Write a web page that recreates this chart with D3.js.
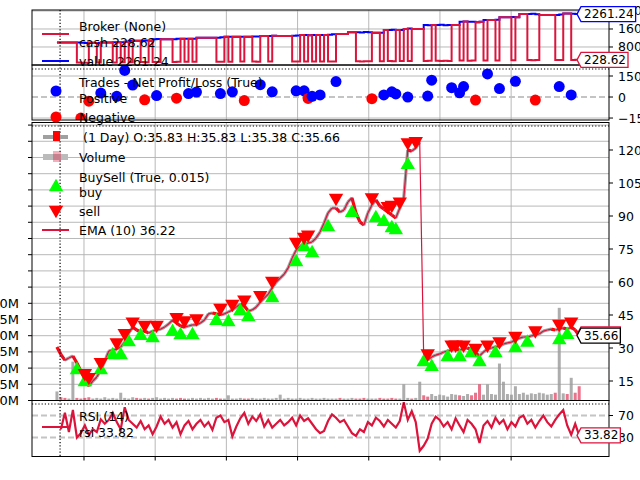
<!DOCTYPE html>
<html lang="en">
<head>
<meta charset="UTF-8">
<title>Backtest plot</title>
<script src="https://d3js.org/d3.v7.min.js"></script>
<style>
  body { margin: 0; background: #fff; }
  svg text { font-family: "DejaVu Sans", sans-serif; fill: #000; }
</style>
</head>
<body>
<div id="chart"></div>
<script>
// one sample every 14 trading days
const firstDay = 155, dayStep = 14, minPeriodDay = 166;

const closes = [30.5, 27.0, 24.5, 25.5, 26.4, 23.2, 19.5, 15.9, 12.7, 15.0,
  16.8, 20.0, 24.0, 28.6, 29.1, 29.5, 30.5, 32.7, 36.8, 39.5,
  38.2, 37.3, 37.7, 36.8, 37.7, 38.2, 38.6, 39.5, 40.9, 42.7,
  41.4, 40.0, 39.5, 40.0, 40.5, 40.5, 41.4, 42.7, 45.5, 45.9,
  45.5, 45.0, 45.5, 46.4, 47.3, 48.6, 50.0, 49.1, 46.8, 47.3,
  48.6, 50.9, 52.7, 54.5, 57.3, 60.0, 61.8, 63.6, 66.4, 70.9,
  74.5, 76.4, 77.3, 77.7, 78.2, 80.0, 82.7, 86.8, 91.4, 93.6,
  93.6, 91.8, 92.7, 96.4, 98.2, 91.4, 87.3, 85.9, 91.4, 95.0,
  97.3, 94.5, 93.2, 91.8, 90.5, 89.1, 93.6, 98.2, 120.0, 119.5,
  120.9, 123.6, 25.5, 24.5, 25.9, 26.8, 27.3, 28.2, 28.6, 29.1,
  29.5, 29.1, 29.5, 30.0, 29.1, 27.7, 26.4, 28.2, 29.5, 30.0,
  30.5, 30.9, 31.8, 32.3, 32.7, 33.6, 34.5, 35.0, 35.0, 35.5,
  35.9, 36.4, 37.7, 38.2, 38.6, 38.2, 38.6, 39.1, 38.6, 39.5,
  38.2, 35.66];

const volume = [14, 5, 4, 3, 60, 4, 3, 4, 5, 3,
  4, 3, 5, 3, 4, 3, 12, 4, 3, 5,
  4, 3, 4, 3, 4, 5, 3, 4, 3, 4,
  3, 4, 3, 3, 4, 3, 4, 3, 4, 3,
  4, 3, 3, 8, 3, 3, 4, 3, 3, 4,
  3, 3, 4, 3, 3, 4, 9, 3, 4, 3,
  3, 4, 3, 3, 4, 3, 3, 4, 3, 3,
  3, 4, 3, 3, 4, 3, 3, 4, 3, 3,
  3, 4, 3, 3, 4, 3, 3, 25, 4, 3,
  4, 29, 8, 6, 10, 7, 9, 8, 6, 10,
  9, 8, 7, 10, 8, 12, 25, 9, 25, 10,
  9, 57, 29, 10, 9, 22, 10, 12, 9, 11,
  10, 12, 11, 9, 10, 12, 143, 11, 10, 35,
  12, 22];

const rsi = [null, 45, 75, 40, 80, 30, 38, 52, 35, 45,
  40, 63, 55, 62, 75, 58, 45, 85, 62, 55,
  48, 60, 45, 52, 36, 50, 68, 55, 62, 48,
  58, 36, 52, 60, 45, 55, 62, 50, 58, 44,
  66, 70, 58, 62, 32, 50, 65, 75, 55, 68,
  60, 72, 50, 62, 48, 55, 62, 52, 58, 66,
  52, 70, 60, 65, 55, 45, 38, 42, 60, 72,
  66, 58, 62, 50, 38, 33, 45, 40, 58, 52,
  66, 60, 50, 62, 55, 48, 60, 94, 62, 78,
  58, 6, 15, 28, 55, 68, 62, 50, 58, 45,
  65, 52, 40, 62, 55, 45, 20, 52, 60, 48,
  66, 55, 62, 45, 58, 50, 66, 70, 55, 62,
  48, 60, 70, 58, 50, 62, 72, 80, 52, 35,
  55, 33.82];

const value = [1000, 1000, 1000, 1000, 1000, 1000, 990, 975, 985, 975,
  975, 1000, 1005, 1005, 1010, 1010, 1010, 1030, 1080, 1080,
  1080, 1075, 1085, 1080, 1140, 1150, 1140, 1140, 1140, 1140,
  1170, 1165, 1170, 1170, 1170, 1210, 1210, 1210, 1210, 1210,
  1210, 1230, 1260, 1260, 1250, 1260, 1260, 1250, 1260, 1270,
  1265, 1290, 1290, 1290, 1300, 1290, 1290, 1290, 1290, 1300,
  1310, 1330, 1330, 1320, 1330, 1330, 1335, 1330, 1340, 1370,
  1380, 1380, 1380, 1450, 1450, 1460, 1440, 1470, 1450, 1430,
  1430, 1430, 1560, 1560, 1570, 1560, 1560, 1600, 1620, 1600,
  1600, 1600, 1780, 1770, 1780, 1780, 1790, 1770, 1780, 1780,
  1780, 1920, 1930, 1920, 1920, 1900, 1920, 2000, 2000, 2000,
  2010, 2120, 2120, 2120, 2130, 2120, 2265, 2265, 2270, 2280,
  2260, 2220, 2220, 2220, 2220, 2220, 2240, 2290, 2290, 2280,
  2270, 2261.24];

const cash = [1000, 1000, 1000, 1000, 1000, 110, 105, 100, 985, 975,
  110, 1000, 1005, 1005, 115, 1010, 120, 1030, 125, 1080,
  1080, 130, 125, 1080, 130, 130, 1140, 1140, 1140, 135,
  140, 1165, 140, 1170, 140, 1210, 1210, 1210, 1210, 1210,
  145, 140, 1260, 145, 1250, 1260, 150, 1250, 1260, 150,
  145, 1290, 1290, 150, 1300, 1290, 1290, 1290, 1290, 155,
  150, 1330, 155, 1320, 155, 1330, 155, 1330, 160, 155,
  1380, 1380, 1380, 1450, 1450, 165, 160, 170, 165, 1430,
  1430, 170, 1560, 175, 170, 1560, 175, 1600, 180, 1600,
  1600, 1600, 180, 185, 1780, 185, 180, 185, 180, 1780,
  1780, 195, 1930, 190, 195, 1900, 1920, 200, 2000, 2000,
  205, 2120, 2120, 2120, 210, 2120, 2265, 2265, 220, 215,
  220, 2220, 2220, 2220, 2220, 220, 225, 2290, 2290, 225,
  230, 228.62];

const buyIdx = [5, 7, 11, 14, 16, 18, 21, 24, 29, 31, 34, 40, 43, 46, 48, 54, 60, 62, 64, 68,
  74, 80, 82, 84, 85, 88, 92, 94, 98, 101, 104, 106, 110, 115, 118, 126, 128];
const buyPrice = [20.0, 14.5, 20.0, 26.8, 26.8, 32.7, 35.5, 34.5, 37.3, 35.9, 35.9, 42.3, 41.8, 46.8, 44.1, 52.7, 69.1, 75.9, 73.2, 85.0,
  91.4, 89.1, 87.3, 84.5, 83.6, 113.2, 23.6, 21.4, 25.9, 25.9, 27.7, 23.6, 27.7, 30.0, 32.5, 33.6, 36.0];

const sellIdx = [7, 8, 11, 15, 17, 19, 22, 25, 30, 32, 35, 41, 44, 47, 51, 54, 60, 62, 63, 70,
  79, 83, 84, 86, 88, 90, 93, 99, 100, 102, 105, 108, 111, 115, 120, 126, 129];
const sellPrice = [18.6, 16.8, 23.6, 32.5, 36.8, 42.0, 40.5, 40.5, 44.0, 42.5, 43.5, 48.2, 50.0, 52.0, 54.0, 60.5, 78.2, 80.5, 81.5, 98.2,
  98.5, 94.5, 95.0, 96.5, 123.5, 124.0, 27.5, 31.5, 31.5, 31.5, 30.0, 31.5, 33.0, 35.5, 38.0, 41.0, 42.0];

const tradeIdx = [6, 8, 11, 15, 17, 19, 22, 25, 30, 33, 35, 41, 44, 47, 51, 54, 60, 62, 63, 64,
  66, 70, 79, 82, 84, 85, 88, 93, 94, 99, 101, 102, 105, 108, 111, 115, 120, 126, 129];
const tradePnl = [-150, -30, 28, 5, 190, 85, -20, 10, -8, 25, 35, 25, 37, -25, 88, 37, 44, 44, -10, 5,
  15, 110, -12, 15, 37, 22, 0, 7, 120, 67, 30, 75, -22, 165, 60, 112, -22, 75, 15];

const xTicks = [250, 500, 750, 1000, 1250, 1500, 1750];
const brokerTicks = [800, 1600, 2400];
const tradeTicks = [-150, 0, 150];
const priceTicks = [15, 30, 45, 60, 75, 90, 105, 120];
const volLabelTicks = [0, 25, 50, 75, 100, 125, 150];
const rsiTicks = [30, 70];

const lastOhlc = "(1 Day) O:35.83 H:35.83 L:35.38 C:35.66";
const lastEma = 36.22;

// ---------- layout ----------
const W = 640, H = 480, L = 32, R = 609;
const P = {
  broker: [10, 65],
  trades: [65, 120],
  main: [122.5, 400.5],
  rsi: [400.5, 456.5]
};
const CRIMSON = "#dc143c", GRID = "#b0b0b0";

const svg = d3.select("#chart").append("svg").attr("width", W).attr("height", H);
svg.append("rect").attr("width", W).attr("height", H).attr("fill", "#fff");

const x = d3.scaleLinear().domain([67.4, 2093.7]).range([L, R]);
const day = i => firstDay + i * dayStep;

const yBroker = d3.scaleLinear().domain([0, 2444]).range([P.broker[1], P.broker[0]]);
const yTrade = d3.scaleLinear().domain([-164, 228.6]).range([P.trades[1], P.trades[0]]);
const yPrice = d3.scaleLinear().domain([6.14, 132.5]).range([P.main[1], P.main[0]]);
const yVol = d3.scaleLinear().domain([0, 429]).range([P.main[1], P.main[0]]);
const yRsi = d3.scaleLinear().domain([-4.5, 97.3]).range([P.rsi[1], P.rsi[0]]);

// clip paths
const defs = svg.append("defs");
Object.entries(P).forEach(([k, [t, b]]) => {
  defs.append("clipPath").attr("id", "clip-" + k)
    .append("rect").attr("x", L).attr("y", t).attr("width", R - L).attr("height", b - t);
});

// ---------- grids ----------
const grid = svg.append("g").attr("stroke", GRID).attr("stroke-width", 0.9);
Object.values(P).forEach(([t, b]) => {
  xTicks.forEach(d => grid.append("line").attr("x1", x(d)).attr("x2", x(d)).attr("y1", t).attr("y2", b));
});
brokerTicks.forEach(d => grid.append("line").attr("x1", L).attr("x2", R).attr("y1", yBroker(d)).attr("y2", yBroker(d)));
[-150, 150].forEach(d => grid.append("line").attr("x1", L).attr("x2", R).attr("y1", yTrade(d)).attr("y2", yTrade(d)));
d3.range(0, 430, 25).forEach(d => grid.append("line").attr("x1", L).attr("x2", R).attr("y1", yVol(d)).attr("y2", yVol(d)));

const dashed = svg.append("g").attr("stroke", "#c4c4c4").attr("stroke-width", 2).attr("stroke-dasharray", "6,3");
dashed.append("line").attr("x1", L).attr("x2", R).attr("y1", yTrade(0)).attr("y2", yTrade(0));
rsiTicks.forEach(d => dashed.append("line").attr("x1", L).attr("x2", R).attr("y1", yRsi(d)).attr("y2", yRsi(d)));

// ---------- broker ----------
const gB = svg.append("g").attr("clip-path", "url(#clip-broker)");
const stepLine = (yS) => d3.line().x((d, i) => x(day(i))).y(d => yS(d)).curve(d3.curveStepAfter);
gB.append("path").datum(value).attr("d", stepLine(yBroker)).attr("fill", "none")
  .attr("stroke", "#0000ff").attr("stroke-width", 2);
gB.append("path").datum(cash).attr("d", stepLine(yBroker)).attr("fill", "none")
  .attr("stroke", CRIMSON).attr("stroke-width", 2);

// ---------- trades ----------
const gT = svg.append("g").attr("clip-path", "url(#clip-trades)");
gT.selectAll("circle").data(tradeIdx).join("circle")
  .attr("cx", d => x(day(d)))
  .attr("cy", (d, k) => yTrade(tradePnl[k]))
  .attr("r", 5.5)
  .attr("fill", (d, k) => tradePnl[k] >= 0 ? "#0000ff" : "#ff0000");

// ---------- main: volume, price, ema, buy/sell ----------
const gM = svg.append("g").attr("clip-path", "url(#clip-main)");
gM.selectAll("rect.vol").data(volume).join("rect").attr("class", "vol")
  .attr("x", (d, i) => x(day(i)) - 1.5)
  .attr("width", 3)
  .attr("y", d => yVol(d))
  .attr("height", d => yVol(0) - yVol(d))
  .attr("fill", (d, i) => (i > 0 && closes[i] < closes[i - 1]) ? CRIMSON : "#999")
  .attr("opacity", (d, i) => (i > 0 && closes[i] < closes[i - 1]) ? 0.6 : 0.8);

closes.forEach((c, i) => {
  if (i === 0) return;
  const p = closes[i - 1];
  if (Math.abs(c - p) / p > 0.5) return; // split gap, no bar drawn
  gM.append("line")
    .attr("x1", x(day(i - 1))).attr("y1", yPrice(p))
    .attr("x2", x(day(i))).attr("y2", yPrice(c))
    .attr("stroke", c >= p ? "#a0a0a0" : "#ff0000")
    .attr("stroke-width", 3.2);
});

gM.append("path").datum(closes)
  .attr("d", d3.line().x((d, i) => x(day(i))).y(d => yPrice(d)))
  .attr("fill", "none").attr("stroke", CRIMSON).attr("stroke-width", 1.2);

const tri = d3.symbol().type(d3.symbolTriangle).size(90);
gM.selectAll("path.buy").data(buyIdx).join("path").attr("class", "buy")
  .attr("d", tri)
  .attr("transform", (d, k) => `translate(${x(day(d))},${yPrice(buyPrice[k])})`)
  .attr("fill", "#00ff00");
gM.selectAll("path.sell").data(sellIdx).join("path").attr("class", "sell")
  .attr("d", tri)
  .attr("transform", (d, k) => `translate(${x(day(d))},${yPrice(sellPrice[k])}) rotate(180)`)
  .attr("fill", "#ff0000");

// ---------- rsi ----------
const gR = svg.append("g").attr("clip-path", "url(#clip-rsi)");
gR.append("path").datum(rsi)
  .attr("d", d3.line().defined(d => d !== null).x((d, i) => x(day(i))).y(d => yRsi(d)))
  .attr("fill", "none").attr("stroke", CRIMSON).attr("stroke-width", 2.2);

// ---------- frames, dotted markers ----------
Object.values(P).forEach(([t, b]) => {
  svg.append("rect").attr("x", L).attr("y", t).attr("width", R - L).attr("height", b - t)
    .attr("fill", "none").attr("stroke", "#000").attr("stroke-width", 1);
});
const dots = svg.append("g").attr("stroke", "#000").attr("stroke-width", 1.2).attr("stroke-dasharray", "1.2,2");
[P.trades[0] + 4, P.main[0] + 3.5, P.rsi[0] + 3.5].forEach(y =>
  dots.append("line").attr("x1", L).attr("x2", R).attr("y1", y).attr("y2", y));
dots.append("line").attr("x1", x(minPeriodDay)).attr("x2", x(minPeriodDay)).attr("y1", P.broker[0]).attr("y2", P.rsi[1]);

// ---------- ticks ----------
const FS = 12.5;
function rightTicks(ticks, yS, fmt) {
  ticks.forEach(d => {
    svg.append("line").attr("x1", R).attr("x2", R + 4).attr("y1", yS(d)).attr("y2", yS(d)).attr("stroke", "#000");
    svg.append("text").attr("x", R + 9).attr("y", yS(d)).attr("dominant-baseline", "central")
      .attr("font-size", FS).text(fmt ? fmt(d) : d);
  });
}
rightTicks(brokerTicks, yBroker);
rightTicks(tradeTicks, yTrade, d => d < 0 ? "\u2212" + Math.abs(d) : d);
rightTicks(priceTicks, yPrice);
rightTicks(rsiTicks, yRsi);

d3.range(0, 430, 25).forEach(d => {
  svg.append("line").attr("x1", L - 4).attr("x2", L).attr("y1", yVol(d)).attr("y2", yVol(d)).attr("stroke", "#000");
});
volLabelTicks.forEach(d => {
  svg.append("text").attr("x", 19).attr("y", yVol(d)).attr("dominant-baseline", "central")
    .attr("text-anchor", "end").attr("font-size", 13).text(d + "M");
});
xTicks.forEach(d => {
  svg.append("line").attr("x1", x(d)).attr("x2", x(d)).attr("y1", P.rsi[1]).attr("y2", P.rsi[1] + 4).attr("stroke", "#000");
});

// ---------- legends ----------
function label(xx, y, t) {
  svg.append("text").attr("x", xx).attr("y", y).attr("dominant-baseline", "central").attr("font-size", FS).text(t);
}
function legLine(y, color) {
  svg.append("line").attr("x1", 42).attr("x2", 69).attr("y1", y).attr("y2", y).attr("stroke", color).attr("stroke-width", 2);
}
legLine(34, CRIMSON);
label(79, 26, "Broker (None)");
label(79, 42, "cash " + cash[cash.length - 1].toFixed(2));
legLine(61, "#0000ff");
label(79, 61, "value " + value[value.length - 1].toFixed(2));

svg.append("circle").attr("cx", 56).attr("cy", 91).attr("r", 5.5).attr("fill", "#0000ff");
label(79, 82, "Trades - Net Profit/Loss (True)");
label(79, 98, "Positive");
svg.append("circle").attr("cx", 56).attr("cy", 117).attr("r", 5.5).attr("fill", "#ff0000");
label(79, 117, "Negative");

svg.append("rect").attr("x", 43).attr("y", 135).attr("width", 25).attr("height", 4).attr("fill", "#a0a0a0");
svg.append("rect").attr("x", 53).attr("y", 131).attr("width", 7).attr("height", 10).attr("fill", "#ff0000");
label(83, 137, lastOhlc);
svg.append("rect").attr("x", 43).attr("y", 154).attr("width", 25).attr("height", 6).attr("fill", "#bbb");
svg.append("rect").attr("x", 53).attr("y", 151).attr("width", 8).attr("height", 11).attr("fill", CRIMSON).attr("opacity", 0.35);
label(79, 157, "Volume");
label(79, 177, "BuySell (True, 0.015)");
svg.append("path").attr("d", tri).attr("transform", "translate(56,187)").attr("fill", "#00ff00");
label(79, 192, "buy");
svg.append("path").attr("d", tri).attr("transform", "translate(56,210) rotate(180)").attr("fill", "#ff0000");
label(79, 211, "sell");
legLine(230, CRIMSON);
label(79, 230, "EMA (10) " + lastEma.toFixed(2));

legLine(427, CRIMSON);
label(79, 416, "RSI (14)");
label(79, 432, "rsi " + rsi[rsi.length - 1].toFixed(2));

// ---------- last value tags ----------
function tag(yc, t, color) {
  const g = svg.append("g");
  const shape = g.append("path");
  const txt = g.append("text").attr("x", 584).attr("y", yc).attr("dominant-baseline", "central")
    .attr("font-size", 12).text(t);
  const w = txt.node().getComputedTextLength();
  const x0 = 577, x1 = 584 + w + 2, h = 7.5;
  shape.attr("d", `M${x0},${yc} L${x0 + 4},${yc - h} L${x1},${yc - h} L${x1},${yc + h} L${x0 + 4},${yc + h} Z`)
    .attr("fill", "#fff").attr("stroke", color).attr("stroke-width", 1.3);
}
tag(yBroker(value[value.length - 1]), value[value.length - 1].toFixed(2), "#0000ff");
tag(yBroker(cash[cash.length - 1]), cash[cash.length - 1].toFixed(2), CRIMSON);
tag(yPrice(lastEma), lastEma.toFixed(2), CRIMSON);
tag(yPrice(closes[closes.length - 1]), closes[closes.length - 1].toFixed(2), "#000");
tag(yRsi(rsi[rsi.length - 1]), rsi[rsi.length - 1].toFixed(2), CRIMSON);
</script>
</body>
</html>
